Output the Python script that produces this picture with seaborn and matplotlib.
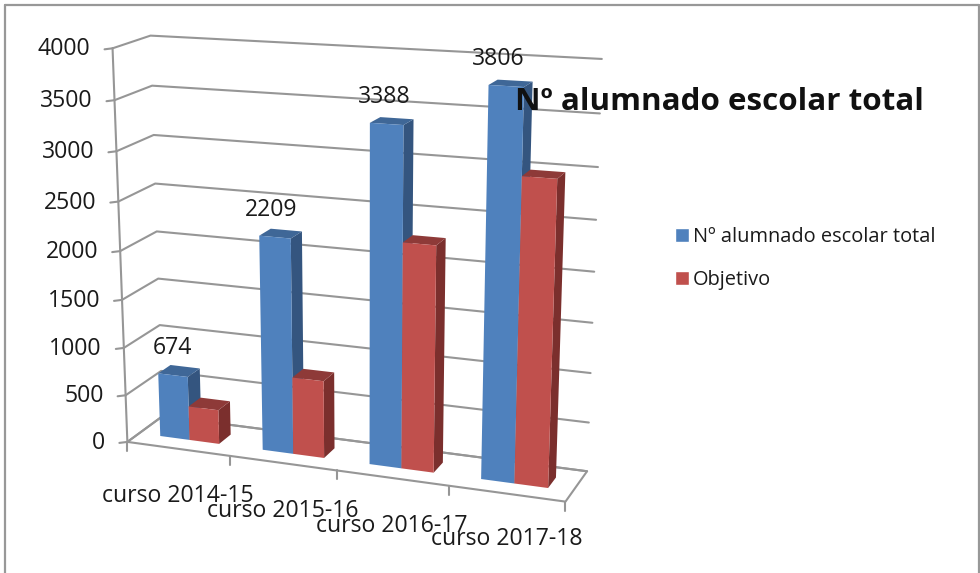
import numpy as np
import pandas as pd
import matplotlib
matplotlib.use("Agg")
import matplotlib.pyplot as plt
import seaborn as sns
from matplotlib.transforms import Transform, Affine2D

# ---- data ----
CATEGORIES = ["curso 2014-15", "curso 2015-16", "curso 2016-17", "curso 2017-18"]
SERIES_NAMES = ["Nº alumnado escolar total", "Objetivo"]
TOTAL = [674, 2209, 3388, 3806]
OBJETIVO = [360, 800, 2270, 2990]
Y_TICKS = [0, 500, 1000, 1500, 2000, 2500, 3000, 3500, 4000]
TITLE = "Nº alumnado escolar total"

# ---- style ----
COL_FRONT = ["#4F81BD", "#C0504D"]
COL_SIDE = ["#34557F", "#7B2F2D"]
COL_TOP = ["#3F6797", "#8E3A38"]
GRID = "#969696"
FONT = "Open Sans"
W, H = 980, 573
YMAX = 4000.0
NCAT = 4
BAR_SPAN = 0.58
D0, D1 = 0.33, 0.68   # bar depth range on the floor

# ---- perspective calibration: (u, v, w) box position -> reference pixel ----
CALIB = [
    (0, 0, 0, 128, 442), (1, 0, 0, 565, 502), (1, 1, 0, 587, 471), (0, 1, 0, 163, 416),
    (0, 0, 1, 113, 48), (0, 1, 1, 150, 36), (1, 1, 1, 602, 60),
    (0, 0, .5, 120, 250), (0, 1, .5, 156, 232), (1, 1, .5, 595, 270),
    (.25, 0, 0, 230, 456), (.5, 0, 0, 337, 471), (.75, 0, 0, 448, 486),
]
A, b = [], []
for u, v, w, px, py in CALIB:
    A.append([u, v, w, 1, 0, 0, 0, 0, -px*u, -px*v, -px*w]); b.append(px)
    A.append([0, 0, 0, 0, u, v, w, 1, -py*u, -py*v, -py*w]); b.append(py)
sol = np.linalg.lstsq(np.array(A, float), np.array(b, float), rcond=None)[0]
PM = np.append(sol, 1.0).reshape(3, 4)


def project(x, y, depth):
    """category position x, value y, floor depth -> pixel coords"""
    x, y = np.asarray(x, float), np.asarray(y, float)
    d = np.broadcast_to(depth, x.shape)
    q = np.stack([(x + .5)/NCAT, d, y/YMAX, np.ones_like(x)], -1) @ PM.T
    return q[..., :2]/q[..., 2:]


class Box(Transform):
    input_dims = output_dims = 2
    has_inverse = False
    is_affine = False

    def __init__(self, floor_depth):
        super().__init__()
        self.floor_depth = floor_depth

    def transform_non_affine(self, values):
        values = np.asarray(values, float)
        return project(values[:, 0], values[:, 1], self.floor_depth)


sns.set_theme(style="white", rc={"font.family": [FONT, "DejaVu Sans"], "text.color": "#111111"})
fig = plt.figure(figsize=(W/100, H/100), dpi=100, facecolor="white")
ax = fig.add_axes([0, 0, 1, 1])
PIX = Affine2D().scale(1, -1).translate(0, H)   # reference pixels -> display


def to_display(depth):
    return Box(depth) + PIX


df = pd.DataFrame({
    "curso": CATEGORIES*2,
    "serie": [SERIES_NAMES[0]]*NCAT + [SERIES_NAMES[1]]*NCAT,
    "alumnos": TOTAL + OBJETIVO,
})
sns.barplot(data=df, x="curso", y="alumnos", hue="serie", hue_order=SERIES_NAMES,
            palette=COL_FRONT, width=BAR_SPAN, gap=0, saturation=1, ax=ax, legend=True)
handles, labels = ax.get_legend_handles_labels()
ax.get_legend().remove()
ax.set_axis_off()

# walls and floor
front = to_display(0)
line = dict(color=GRID, lw=1.5, clip_on=False, zorder=1, solid_capstyle="round")
for t in Y_TICKS:
    xs = np.array([-.5, -.5, 3.5])
    ys = project(xs, np.array([t, t, t]), np.array([0., 1., 1.]))
    ax.plot(ys[:, 0], ys[:, 1], transform=PIX, **line)
    tick = project(np.array(-.5), np.array(t), 0.)
    ax.plot([tick[0]-8, tick[0]], [tick[1]+1, tick[1]], transform=PIX, **line)
    ax.text(tick[0]-22, tick[1]+1, str(t), transform=PIX, ha="right", va="center",
            fontsize=16.6, color="#1a1a1a", clip_on=False)
ax.plot([-.5, -.5], [0, YMAX], transform=front, **line)
floor = project(np.array([-.5, 3.5, 3.5, -.5, -.5]), np.zeros(5), np.array([0., 0., 1., 1., 0.]))
ax.plot(floor[:, 0], floor[:, 1], transform=PIX, **line)
for i in range(NCAT+1):
    p = project(np.array(i-.5), np.array(0.), 0.)
    ax.plot([p[0], p[0]], [p[1], p[1]+9], transform=PIX, **line)

# bars: seaborn's rectangles are the front faces, pushed through the projection
bars = [p for p in ax.patches if p.get_width() > 0][:2*NCAT]
for k, patch in enumerate(bars):
    s = k // NCAT
    i = k % NCAT
    x0, x1 = patch.get_x(), patch.get_x() + patch.get_width()
    h = patch.get_height()
    z = 3 + i*2 + s*.5
    patch.set_transform(to_display(D0))
    patch.set(clip_on=False, lw=0, zorder=z + .2)
    side = np.vstack([project(np.array([x1, x1]), np.array([0, h]), D0),
                      project(np.array([x1, x1]), np.array([h, 0]), D1)])
    top = np.vstack([project(np.array([x0, x1]), np.array([h, h]), D0),
                     project(np.array([x1, x0]), np.array([h, h]), D1)])
    ax.fill(side[:, 0], side[:, 1], color=COL_SIDE[s], lw=0, transform=PIX, clip_on=False, zorder=z)
    ax.fill(top[:, 0], top[:, 1], color=COL_TOP[s], lw=0, transform=PIX, clip_on=False, zorder=z + .1)

# data labels
LABEL_DX = [0, -4, -2, -8]
for i, (patch, val) in enumerate(zip(bars[:NCAT], TOTAL)):
    cx = patch.get_x() + patch.get_width()/2
    p = project(np.array(cx), np.array(val), D0)
    ax.text(p[0] + LABEL_DX[i], p[1]-27, str(val), transform=PIX, ha="center", va="center",
            fontsize=16.6, color="#1a1a1a", zorder=20, clip_on=False)

# category labels
LABEL_DY = [47, 48, 48, 45]
for i, c in enumerate(CATEGORIES):
    p = project(np.array(i), np.array(0.), 0.)
    ax.text(p[0], p[1]+LABEL_DY[i], c, transform=PIX, ha="center", va="center",
            fontsize=16.6, color="#1a1a1a", zorder=20, clip_on=False)

# title and legend
ax.text(719, 102, TITLE, transform=PIX, ha="center", va="center", fontsize=22.6,
        fontweight="bold", color="#111111", zorder=30, clip_on=False)
ax.legend(handles, labels, loc="upper left", bbox_to_anchor=(675, H-227), bbox_transform=Affine2D(),
          frameon=False, fontsize=14.4, handlelength=.7, handleheight=.7, handletextpad=.2,
          labelspacing=1.15, borderpad=0, borderaxespad=0, labelcolor="#1a1a1a")

# outer frame
fr = dict(color="#989898", lw=1.6, transform=PIX, clip_on=False, zorder=40)
ax.plot([4.5, 4.5], [5, H], **fr)
ax.plot([4.5, 979], [5, 5], **fr)
ax.plot([979, 979], [5, H], **fr)

fig.savefig("out.png", dpi=100)
